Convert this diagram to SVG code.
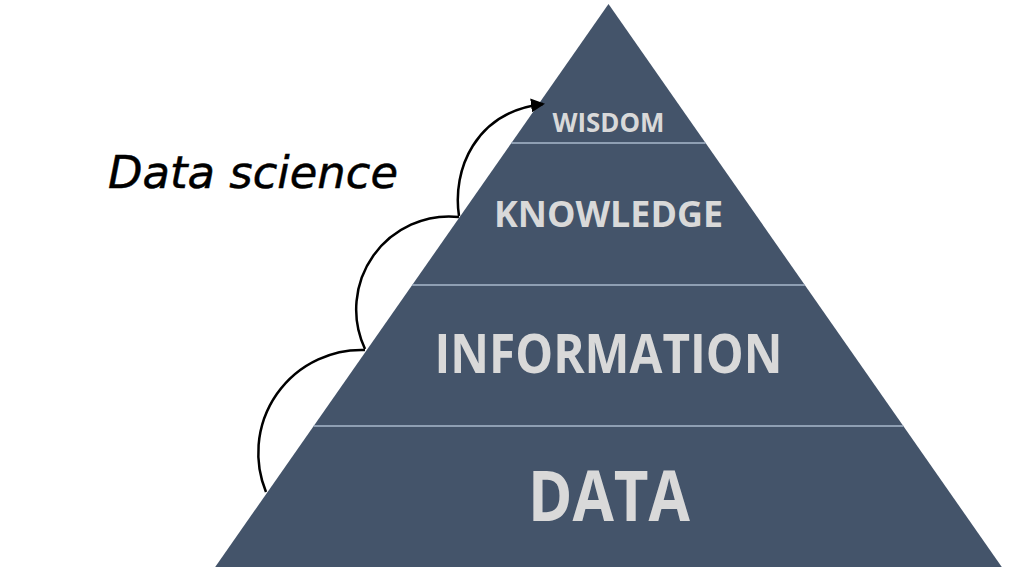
<svg xmlns="http://www.w3.org/2000/svg" width="1019" height="572" viewBox="0 0 1019 572">
<style>
.layer{fill:#44546A}
.div{stroke:#A9B8CC;stroke-width:1.5}
.lbl{font-family:"Open Sans","Liberation Sans",sans-serif;font-weight:bold;fill:#D9D9D9;text-anchor:middle}
.conn{fill:none;stroke:#000;stroke-width:2.5}
.hand{font-family:"DejaVu Sans","Liberation Sans",sans-serif;font-style:italic;fill:#000;stroke:#000;stroke-width:0.5}
</style>
<defs>
<marker id="ah" viewBox="0 0 14 14" refX="12" refY="7" markerWidth="14" markerHeight="14" markerUnits="userSpaceOnUse" orient="auto">
<path d="M0,0 L14,7 L0,14 Z" fill="#000"/>
</marker>
</defs>
<rect width="1019" height="572" fill="#fff"/>
<g id="wisdom">
<polygon class="layer" points="608.5,4 705.6,143 511.4,143"/>
<text class="lbl" x="608.5" y="132" font-size="26.5" textLength="112" lengthAdjust="spacingAndGlyphs">WISDOM</text>
</g>
<g id="knowledge">
<polygon class="layer" points="511.4,143 705.6,143 804.8,285 412.2,285"/>
<text class="lbl" x="608.5" y="227" font-size="35" textLength="229" lengthAdjust="spacingAndGlyphs">KNOWLEDGE</text>
</g>
<g id="information">
<polygon class="layer" points="412.2,285 804.8,285 903.3,426 313.7,426"/>
<text class="lbl" x="608.5" y="373" font-size="53" textLength="348" lengthAdjust="spacingAndGlyphs">INFORMATION</text>
</g>
<g id="data">
<polygon class="layer" points="313.7,426 903.3,426 1001.8,567 215.2,567"/>
<text class="lbl" x="609" y="520.5" font-size="70" textLength="162" lengthAdjust="spacingAndGlyphs">DATA</text>
</g>
<g id="dividers">
<line class="div" x1="511.4" y1="143" x2="705.6" y2="143"/>
<line class="div" x1="412.2" y1="285" x2="804.8" y2="285"/>
<line class="div" x1="313.7" y1="426" x2="903.3" y2="426"/>
</g>
<g id="label">
<text class="hand" x="108" y="188" font-size="45" textLength="290" lengthAdjust="spacingAndGlyphs">Data science</text>
</g>
<g id="connectors">
<path class="conn" d="M266,492 A103,103 0 0 1 365,350"/>
<path class="conn" d="M365,349 A93,93 0 0 1 459,217"/>
<path class="conn" d="M459,216 C452,170 475,112 543,104" marker-end="url(#ah)"/>
</g>
</svg>
